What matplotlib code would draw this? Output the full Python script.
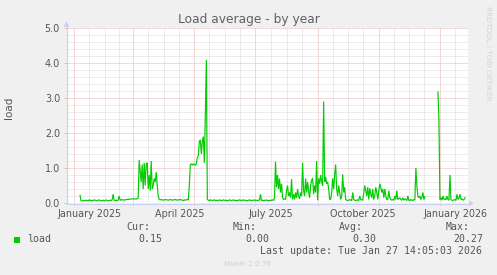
import numpy as np
import matplotlib
matplotlib.use("Agg")
import matplotlib.pyplot as plt
from matplotlib.patches import Polygon, Rectangle

# ---------------- data ----------------
first_date = "2025-01-07"          # date of the first daily value
load_values = [
    # Jan 7 .. Mar 6
    0.22, 0.07, 0.06, 0.06, 0.07, 0.06, 0.08, 0.07, 0.06, 0.09,
    0.07, 0.08, 0.06, 0.07, 0.09, 0.08, 0.07, 0.06, 0.08, 0.09,
    0.07, 0.06, 0.07, 0.08, 0.06, 0.07, 0.09, 0.07, 0.06, 0.07,
    0.08, 0.07, 0.09, 0.25, 0.08, 0.07, 0.08, 0.07, 0.08, 0.20,
    0.09, 0.08, 0.10, 0.09, 0.08, 0.09, 0.10, 0.10, 0.11, 0.10,
    0.11, 0.12, 0.12, 0.11, 0.12, 0.12, 0.11, 0.13, 0.14,
    # Mar 7 .. Mar 27
    1.23, 0.90, 0.60, 1.10, 0.40, 1.15, 0.50, 1.10, 1.15, 0.40,
    0.80, 0.35, 1.20, 0.40, 0.50, 0.70, 0.60, 0.88, 0.50, 0.20,
    0.10,
    # Mar 28 .. Apr 26
    0.09, 0.10, 0.09, 0.08, 0.09, 0.10, 0.09, 0.09, 0.08, 0.09,
    0.10, 0.09, 0.08, 0.09, 0.09, 0.10, 0.09, 0.08, 0.09, 0.09,
    0.10, 0.09, 0.08, 0.07, 0.09, 0.08, 0.09, 0.10, 0.09, 0.50,
    # Apr 27 .. May 14
    1.09, 1.12, 1.08, 1.12, 1.10, 1.08, 1.12, 1.30, 1.35, 1.75,
    1.80, 1.40, 1.75, 1.90, 1.15, 2.50, 4.09, 0.10,
    # May 15 .. Jul 5
    0.08, 0.07, 0.09, 0.08, 0.07, 0.08, 0.09, 0.07, 0.08, 0.06,
    0.08, 0.09, 0.07, 0.08, 0.07, 0.09, 0.08, 0.07, 0.08, 0.06,
    0.07, 0.09, 0.08, 0.07, 0.08, 0.09, 0.07, 0.08, 0.06, 0.08,
    0.07, 0.09, 0.08, 0.07, 0.08, 0.09, 0.07, 0.08, 0.07, 0.06,
    0.08, 0.09, 0.07, 0.08, 0.07, 0.08, 0.09, 0.07, 0.08, 0.07,
    0.08, 0.08,
    # Jul 6 .. Jul 20
    0.25, 0.07, 0.08, 0.06, 0.08, 0.07, 0.09, 0.07, 0.06, 0.08,
    0.07, 0.08, 0.09, 0.07, 0.15,
    # Jul 21 .. Dec 17
    1.18, 0.45, 0.80, 0.40, 0.70, 0.30, 0.55, 0.15, 0.10, 0.12,
    0.10, 0.35, 0.50, 0.20, 0.30, 0.15, 0.68, 0.10, 0.25, 0.10,
    0.30, 0.15, 0.40, 0.20, 0.12, 0.30, 0.20, 1.15, 0.35, 0.20,
    0.70, 0.30, 0.60, 0.35, 0.15, 0.50, 0.65, 0.70, 0.25, 0.50,
    0.30, 1.20, 0.08, 0.70, 0.55, 0.80, 0.60, 0.50, 2.90, 0.60,
    0.75, 0.55, 0.60, 0.40, 0.10, 0.10, 0.30, 0.70, 0.40, 0.80,
    1.10, 0.40, 0.20, 0.50, 0.30, 0.10, 0.20, 0.82, 0.30, 0.45,
    0.10, 0.08, 0.07, 0.08, 0.10, 0.08, 0.07, 0.30, 0.10, 0.08,
    0.07, 0.08, 0.09, 0.07, 0.20, 0.10, 0.09, 0.08, 0.30, 0.50,
    0.35, 0.20, 0.45, 0.10, 0.42, 0.25, 0.15, 0.40, 0.10, 0.20,
    0.45, 0.30, 0.10, 0.35, 0.55, 0.45, 0.30, 0.40, 0.15, 0.40,
    0.20, 0.10, 0.10, 0.35, 0.15, 0.10, 0.08, 0.10, 0.08, 0.20,
    0.10, 0.35, 0.10, 0.12, 0.15, 0.10, 0.08, 0.15, 0.08, 0.12,
    0.10, 0.07, 0.20, 0.08, 0.07, 0.10, 0.08, 0.07, 0.10, 0.09,
    1.00, 0.50, 0.20, 0.15, 0.20, 0.10, 0.15, 0.30, 0.10, 0.18,
    # Dec 18 .. Dec 29 : no data
    np.nan, np.nan, np.nan, np.nan, np.nan, np.nan,
    np.nan, np.nan, np.nan, np.nan, np.nan, np.nan,
    # Dec 30 .. Jan 27 2026
    3.17, 2.40, 0.10, 0.15, 0.08, 0.20, 0.10, 0.12, 0.09, 0.20,
    0.10, 0.08, 0.80, 0.10, 0.08, 0.07, 0.09, 0.10, 0.07, 0.25,
    0.10, 0.15, 0.25, 0.10, 0.12, 0.08, 0.10, 0.15,
]

ref_date = "2025-01-01"
view_start = "2024-12-25"
view_end = "2026-01-29"
major_grid_dates = ["2025-01-01", "2025-03-01", "2025-05-01", "2025-07-01",
                    "2025-09-01", "2025-11-01", "2026-01-01"]
minor_grid_dates = ["2025-01-16", "2025-02-01", "2025-02-15", "2025-03-16",
                    "2025-04-01", "2025-04-16", "2025-05-16", "2025-06-01",
                    "2025-06-16", "2025-07-16", "2025-08-01", "2025-08-16",
                    "2025-09-16", "2025-10-01", "2025-10-16", "2025-11-16",
                    "2025-12-01", "2025-12-16", "2026-01-16"]
label_dates = ["2025-01-16", "2025-04-16", "2025-07-16", "2025-10-16", "2026-01-16"]
label_texts = ["January 2025", "April 2025", "July 2025", "October 2025", "January 2026"]
y_major = [0.0, 1.0, 2.0, 3.0, 4.0, 5.0]
y_labels = ["0.0", "1.0", "2.0", "3.0", "4.0", "5.0"]
y_minor = [0.2, 0.4, 0.6, 0.8, 1.2, 1.4, 1.6, 1.8, 2.2, 2.4, 2.6, 2.8,
           3.2, 3.4, 3.6, 3.8, 4.2, 4.4, 4.6, 4.8]

stat_names = ["Cur:", "Min:", "Avg:", "Max:"]
stat_values = ["0.15", "0.00", "0.30", "20.27"]
series_name = "load"
last_update = "Last update: Tue Jan 27 14:05:03 2026"


def day_num(d):
    return (np.datetime64(d, "D") - np.datetime64(ref_date, "D")).astype(int)


# ---------------- figure ----------------
W, H = 497, 275
BG = "#F0F0F0"
TXT = "#555555"
AXC = "#C9D0F4"
GRID = "#DADADA"
MGRID = "#EDB2B2"
LINE = "#00CC00"

fig = plt.figure(figsize=(W / 100, H / 100), dpi=100, facecolor=BG)
L, R, T, B = 67, 468, 28, 203
ax = fig.add_axes([L / W, 1 - B / H, (R - L) / W, (B - T) / H])
ax.set_facecolor("white")

xs = day_num(first_date) + np.arange(len(load_values))
ax.set_xlim(day_num(view_start), day_num(view_end))
ax.set_ylim(0, 5)

dot = (0, (1, 1))
for d in minor_grid_dates:
    ax.axvline(day_num(d), color=GRID, lw=0.72, ls=dot, zorder=1)
for v in y_minor:
    ax.axhline(v, color=GRID, lw=0.72, ls=dot, zorder=1)
for d in major_grid_dates:
    ax.axvline(day_num(d), color=MGRID, lw=0.72, ls=dot, zorder=1.5)
for v in y_major[1:]:
    ax.axhline(v, color=MGRID, lw=0.72, ls=dot, zorder=1.5)

ax.plot(xs, load_values, color=LINE, lw=0.85, zorder=3, solid_joinstyle="miter")

for s in ax.spines.values():
    s.set_visible(False)

ax.set_xticks([day_num(d) for d in label_dates])
ax.set_xticklabels(label_texts)
ax.set_yticks(y_major)
ax.set_yticklabels(y_labels)
ax.tick_params(axis="x", length=0, pad=4, labelsize=6.9, labelcolor=TXT)
ax.tick_params(axis="y", length=2, width=0.7, color=MGRID, pad=3,
               labelsize=6.9, labelcolor=TXT)
# short red ticks below the axis at major grid
for d in major_grid_dates:
    ax.plot([day_num(d)] * 2, [-0.02, -0.07], color=MGRID, lw=0.72,
            clip_on=False, zorder=2)

# overlay in pixel coordinates for decorations
ov = fig.add_axes([0, 0, 1, 1], facecolor="none")
ov.set_xlim(0, W)
ov.set_ylim(H, 0)
ov.axis("off")
ov.plot([L - 0.5, 470], [B + 0.5, B + 0.5], color=AXC, lw=0.8)
ov.plot([L - 0.5, L - 0.5], [B + 0.5, 25], color=AXC, lw=0.8)
ov.add_patch(Polygon([[469, B - 2.5], [474, B + 0.5], [469, B + 3.5]],
                     closed=True, color=AXC, lw=0))
ov.add_patch(Polygon([[L - 3.5, 27], [L - 0.5, 21], [L + 2.5, 27]],
                     closed=True, color=AXC, lw=0))

fig.text(248.5 / W, 1 - 19 / H, "Load average - by year", ha="center",
         va="center", fontsize=8.8, color="#606060")
fig.text(9 / W, 1 - 108 / H, "load", rotation=90, ha="center", va="center",
         fontsize=7.5, color=TXT)
fig.text(488 / W, 1 - 53 / H, "RRDTOOL / TOBI OETIKER", rotation=270,
         ha="center", va="center", fontsize=5.3, color="#D2D2D2")

mono = "DejaVu Sans Mono"
name_right = [150, 257, 363, 470]
val_right = [162, 269, 376, 483]
for nm, xr in zip(stat_names, name_right):
    fig.text(xr / W, 1 - 227.5 / H, nm, ha="right", va="center",
             fontsize=7.1, family=mono, color=TXT)
for vv, xr in zip(stat_values, val_right):
    fig.text(xr / W, 1 - 239.5 / H, vv, ha="right", va="center",
             fontsize=7.1, family=mono, color=TXT)
ov.add_patch(Rectangle((14, 236.5), 6, 6, color=LINE, lw=0))
fig.text(27 / W, 1 - 239.5 / H, series_name, ha="left", va="center",
         fontsize=7.1, family=mono, color=TXT)
fig.text(482.5 / W, 1 - 251.5 / H, last_update, ha="right", va="center",
         fontsize=7.1, family=mono, color=TXT)
fig.text(248 / W, 1 - 264.5 / H, "Munin 2.0.76", ha="center", va="center",
         fontsize=5.2, color="#CFCFCF")

fig.savefig("out.png", dpi=100, facecolor=BG)
